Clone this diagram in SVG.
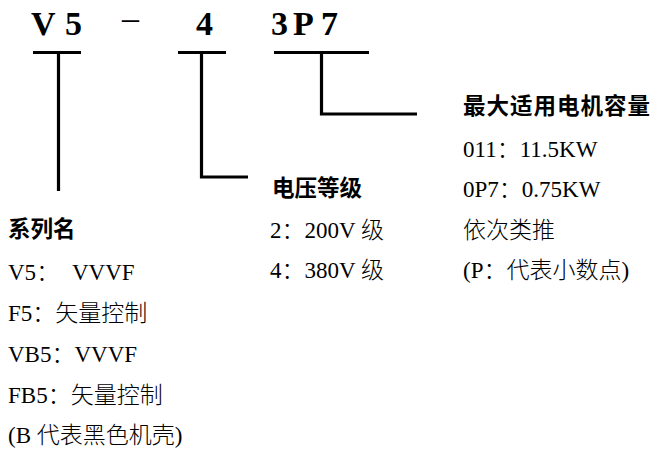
<svg xmlns="http://www.w3.org/2000/svg" width="657" height="450" viewBox="0 0 657 450">
<style>
.big{font-family:"Liberation Serif",serif;font-weight:bold;font-size:34px;fill:#000}
.dash{font-family:"Liberation Serif",serif;font-size:34px;fill:#000}
.t{font-family:"Liberation Serif","Noto Sans CJK SC",serif;font-size:23px;fill:#000}
.c{font-family:"Noto Sans CJK SC",sans-serif;font-weight:300}
.h{font-family:"Noto Sans CJK SC",sans-serif;font-weight:bold;font-size:22.5px;fill:#000}
.ln{fill:none;stroke:#000;stroke-width:3.2;stroke-linecap:butt;stroke-linejoin:miter}
</style>
<rect width="657" height="450" fill="#fff"/>
<g id="code">
<text class="big" x="31 65" y="35">V5</text>
<text class="dash" x="122" y="29">–</text>
<text class="big" x="196" y="35">4</text>
<text class="big" x="271 293 321" y="35">3P7</text>
</g>
<g id="connectors">
<path class="ln" d="M33,52.5 H81 M58.5,52.5 V191"/>
<path class="ln" d="M178,52.5 H226 M201.5,52.5 V177 H248"/>
<path class="ln" d="M274,52.5 H369 M321.5,52.5 V114 H417"/>
</g>
<g id="series">
<text class="h" x="8" y="237">系列名</text>
<text class="t" x="8" y="280">V5<tspan class="c">：</tspan><tspan x="72">VVVF</tspan></text>
<text class="t" x="8" y="321">F5<tspan class="c">：矢量控制</tspan></text>
<text class="t" x="8" y="362">VB5<tspan class="c">：</tspan>VVVF</text>
<text class="t" x="8" y="403">FB5<tspan class="c">：矢量控制</tspan></text>
<text class="t" x="8" y="443">(B <tspan class="c">代表黑色机壳</tspan>)</text>
</g>
<g id="voltage">
<text class="h" x="272" y="196">电压等级</text>
<text class="t" x="270" y="238">2<tspan class="c">：</tspan>200V <tspan class="c">级</tspan></text>
<text class="t" x="270" y="278">4<tspan class="c">：</tspan>380V <tspan class="c">级</tspan></text>
</g>
<g id="capacity">
<text class="h" x="463" y="114" letter-spacing="1">最大适用电机容量</text>
<text class="t" x="463" y="157">011<tspan class="c">：</tspan>11.5KW</text>
<text class="t" x="463" y="197">0P7<tspan class="c">：</tspan>0.75KW</text>
<text class="t" x="463" y="238"><tspan class="c">依次类推</tspan></text>
<text class="t" x="463" y="278">(P<tspan class="c">：代表小数点</tspan>)</text>
</g>
</svg>
